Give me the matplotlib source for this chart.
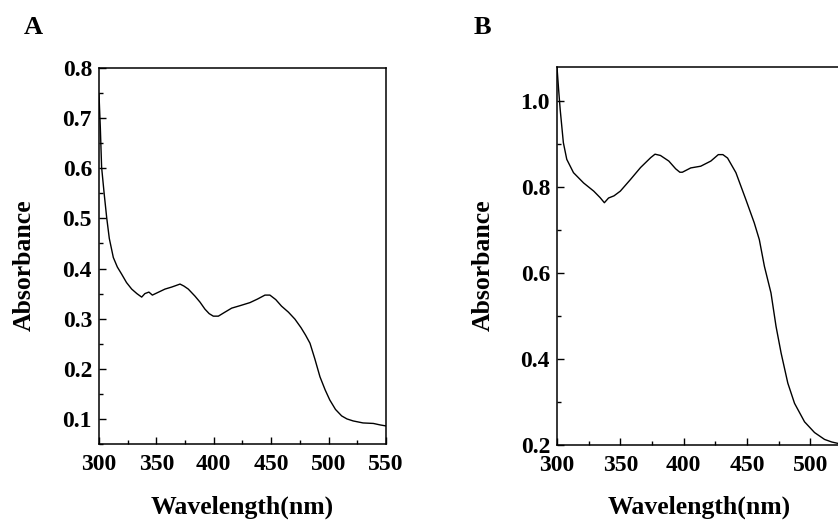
import numpy as np
import matplotlib
matplotlib.use('Agg')
import matplotlib.pyplot as plt
from matplotlib.ticker import MultipleLocator

plt.rcParams['font.family'] = ['Liberation Serif', 'DejaVu Serif']
plt.rcParams['font.weight'] = 'bold'

# 图A 吸收光谱
wl_a = [300, 301.2, 302.3, 304.5, 306.7, 309, 312.5, 316, 319.7, 324, 328.5, 333, 337.2,
        340, 343.5, 346.5, 352, 357.5, 363.3, 367, 370.6, 374, 377.8, 383.6, 388, 392.3,
        396, 399.6, 404, 409, 415.6, 423, 431.5, 438, 444.6, 448.9, 454, 459, 465, 470.7,
        476, 480, 483.8, 488, 492.5, 497, 501, 506, 511.4, 516, 521.4, 530, 539, 545, 550]
abs_a = [0.749, 0.68, 0.602, 0.55, 0.502, 0.46, 0.422, 0.403, 0.389, 0.372, 0.359, 0.35,
         0.343, 0.35, 0.353, 0.347, 0.353, 0.359, 0.363, 0.366, 0.369, 0.365, 0.359,
         0.345, 0.333, 0.319, 0.31, 0.305, 0.305, 0.312, 0.321, 0.326, 0.332, 0.339,
         0.347, 0.347, 0.338, 0.325, 0.313, 0.299, 0.282, 0.267, 0.251, 0.22, 0.184,
         0.158, 0.138, 0.119, 0.106, 0.1, 0.096, 0.092, 0.091, 0.088, 0.086]

# 图B 吸收光谱
wl_b = [300, 301.2, 302.5, 305, 307.7, 313, 321, 329, 334, 337.4, 340.7, 345, 350, 358,
        366, 374, 377.4, 381.7, 388.3, 393.7, 397, 399, 405.6, 413.5, 421.5, 427.4, 431,
        434.7, 441.3, 449.2, 455.8, 459.8, 463.8, 469, 473, 477, 482.3, 487.6, 495.5,
        503.4, 511.3, 517, 523, 527]
abs_b = [1.079, 1.03, 0.981, 0.904, 0.865, 0.834, 0.81, 0.791, 0.776, 0.764, 0.775,
         0.78, 0.791, 0.818, 0.846, 0.869, 0.877, 0.874, 0.861, 0.843, 0.835, 0.835,
         0.845, 0.849, 0.861, 0.876, 0.876, 0.868, 0.834, 0.771, 0.717, 0.678, 0.616,
         0.554, 0.476, 0.414, 0.344, 0.297, 0.254, 0.229, 0.213, 0.207, 0.203, 0.2]

fig = plt.figure(figsize=(8.38, 5.27), dpi=100)
ax1 = fig.add_axes([0.1181, 0.1575, 0.3425, 0.7135])
ax2 = fig.add_axes([0.6647, 0.1556, 0.3777, 0.7173])

def style_axes(ax, xmajor, xminor, ymajor, yminor):
    ax.xaxis.set_major_locator(MultipleLocator(xmajor))
    ax.xaxis.set_minor_locator(MultipleLocator(xminor))
    ax.yaxis.set_major_locator(MultipleLocator(ymajor))
    ax.yaxis.set_minor_locator(MultipleLocator(yminor))
    ax.yaxis.set_major_formatter(plt.FormatStrFormatter('%.1f'))
    ax.tick_params(which='both', direction='in', top=False, right=False, width=1.0)
    ax.tick_params(which='major', length=5, labelsize=17)
    ax.tick_params(which='minor', length=3)
    ax.tick_params(axis='x', which='major', pad=7)
    ax.tick_params(axis='y', which='major', pad=5)
    for lab in ax.get_xticklabels() + ax.get_yticklabels():
        lab.set_fontweight('bold')
    for sp in ax.spines.values():
        sp.set_linewidth(1.1)
    ax.set_xlabel('Wavelength(nm)', fontsize=18.5, fontweight='bold')
    ax.set_ylabel('Absorbance', fontsize=18.5, fontweight='bold')

ax1.plot(wl_a, abs_a, color='black', linewidth=1.0)
ax1.set_xlim(300, 550)
ax1.set_ylim(0.05, 0.8)
style_axes(ax1, 50, 25, 0.1, 0.05)
ax1.xaxis.set_label_coords(0.50, -0.138)
ax1.yaxis.set_label_coords(-0.22, 0.476)

ax2.plot(wl_b, abs_b, color='black', linewidth=1.0)
ax2.set_xlim(300, 550)
ax2.set_ylim(0.2, 1.08)
style_axes(ax2, 50, 25, 0.2, 0.1)
ax2.xaxis.set_label_coords(0.449, -0.134)
ax2.yaxis.set_label_coords(-0.196, 0.476)
# 550 的标签在画面外，原图看不到
for lab in ax2.get_xticklabels():
    if lab.get_text() == '550':
        lab.set_visible(False)

fig.text(33 / 838, 1 - 27 / 527, 'A', fontsize=19, fontweight='bold', ha='center', va='center')
fig.text(482 / 838, 1 - 27 / 527, 'B', fontsize=19, fontweight='bold', ha='center', va='center')

fig.savefig('out.png', dpi=100)
